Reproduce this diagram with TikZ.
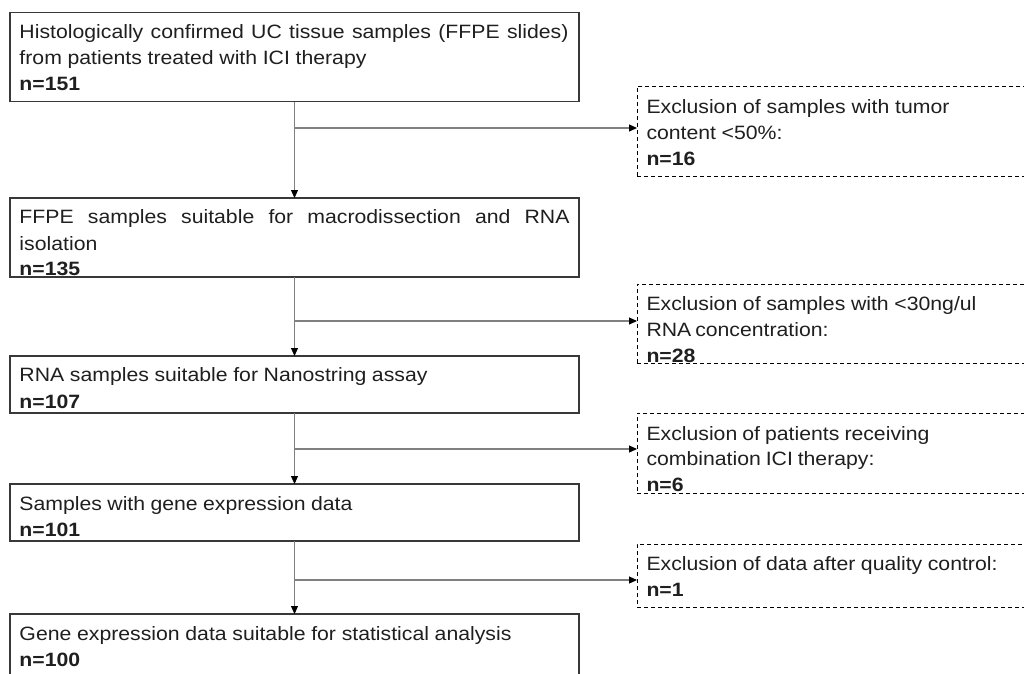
\documentclass[tikz,border=0pt]{standalone}
\usepackage{fontspec}
\setmainfont{Liberation Sans}[FakeStretch=1.1]
\usetikzlibrary{arrows.meta}
\newcommand{\jline}[2]{\makebox[#1pt][s]{#2}}
\tikzset{
  mainbox/.style={draw=black!78, line width=1.3pt, fill=none, rectangle, inner sep=0pt, outer sep=0pt, anchor=north west},
  exclbox/.style={draw=black, line width=0.9pt, dash pattern=on 4pt off 3pt, rectangle, inner sep=0pt, outer sep=0pt, anchor=north west},
  txt/.style={anchor=base west, inner sep=0pt, outer sep=0pt, text=black!88, font=\fontsize{19.3}{26}\selectfont},
  conn/.style={draw=black!50, line width=1.1pt, -{Triangle[length=8pt,width=7pt,color=black]}},
  trunk/.style={draw=black!50, line width=1.1pt}
}
\begin{document}
\begin{tikzpicture}[x=1pt,y=-1pt]
\useasboundingbox (0,0) rectangle (1024,673);
\clip (0,0) rectangle (1024,673);
\fill[white] (0,0) rectangle (1024,673);

% main boxes
\node[mainbox, minimum width=569pt, minimum height=89pt] (b1) at (10,12.7) {};
\node[mainbox, minimum width=569pt, minimum height=79pt] (b2) at (10,198) {};
\node[mainbox, minimum width=569pt, minimum height=57pt] (b3) at (10,356) {};
\node[mainbox, minimum width=569pt, minimum height=57pt] (b4) at (10,484) {};
\node[mainbox, minimum width=569pt, minimum height=90pt] (b5) at (10,614) {};

% exclusion boxes
\node[exclbox, minimum width=420pt, minimum height=89.3pt] (d1) at (637,86.7) {};
\node[exclbox, minimum width=420pt, minimum height=79pt] (d2) at (637,284) {};
\node[exclbox, minimum width=420pt, minimum height=80pt] (d3) at (637,413) {};
\node[exclbox, minimum width=420pt, minimum height=63pt] (d4) at (637,544) {};

% texts main
\node[txt] (t1a) at (19.5,38.3) {\jline{549}{Histologically confirmed UC tissue samples (FFPE slides)}};
\node[txt] (t1b) at (19.5,64) {\jline{347}{from patients treated with ICI therapy}};
\node[txt] (t1c) at (19.5,90) {\textbf{n=151}};

\node[txt] (t2a) at (19.5,223.3) {\jline{550}{FFPE samples suitable for macrodissection and RNA}};
\node[txt] (t2b) at (19.5,250) {isolation};
\node[txt] (t2c) at (19.5,275.7) {\textbf{n=135}};

\node[txt] (t3a) at (19.5,381.7) {\jline{408}{RNA samples suitable for Nanostring assay}};
\node[txt] (t3b) at (19.5,408.3) {\textbf{n=107}};

\node[txt] (t4a) at (19.5,510.7) {\jline{333}{Samples with gene expression data}};
\node[txt] (t4b) at (19.5,536.7) {\textbf{n=101}};

\node[txt] (t5a) at (19.5,640.7) {\jline{492}{Gene expression data suitable for statistical analysis}};
\node[txt] (t5b) at (19.5,666.7) {\textbf{n=100}};

% texts exclusion
\node[txt] (e1a) at (646.5,113.3) {\jline{303}{Exclusion of samples with tumor}};
\node[txt] (e1b) at (646.5,139.3) {\jline{136}{content <50\%:}};
\node[txt] (e1c) at (646.5,165) {\textbf{n=16}};

\node[txt] (e2a) at (646.5,310.7) {\jline{330}{Exclusion of samples with <30ng/ul}};
\node[txt] (e2b) at (646.5,336.7) {\jline{180}{RNA concentration:}};
\node[txt] (e2c) at (646.5,362.3) {\textbf{n=28}};

\node[txt] (e3a) at (646.5,440) {\jline{283}{Exclusion of patients receiving}};
\node[txt] (e3b) at (646.5,465.7) {\jline{228}{combination ICI therapy:}};
\node[txt] (e3c) at (646.5,491.7) {\textbf{n=6}};

\node[txt] (e4a) at (646.5,570) {\jline{351}{Exclusion of data after quality control:}};
\node[txt] (e4b) at (646.5,596) {\textbf{n=1}};

% junctions
\coordinate (j1) at (294.5,128);
\coordinate (j2) at (294.5,321);
\coordinate (j3) at (294.5,449);
\coordinate (j4) at (294.5,580);

% vertical connectors
\draw[conn] (b1.south) -- (b2.north);
\draw[conn] (b2.south) -- (b3.north);
\draw[conn] (b3.south) -- (b4.north);
\draw[conn] (b4.south) -- (b5.north);

% horizontal connectors
\draw[conn] (j1) -- (j1 -| d1.west);
\draw[conn] (j2) -- (j2 -| d2.west);
\draw[conn] (j3) -- (j3 -| d3.west);
\draw[conn] (j4) -- (j4 -| d4.west);
\end{tikzpicture}
\end{document}
